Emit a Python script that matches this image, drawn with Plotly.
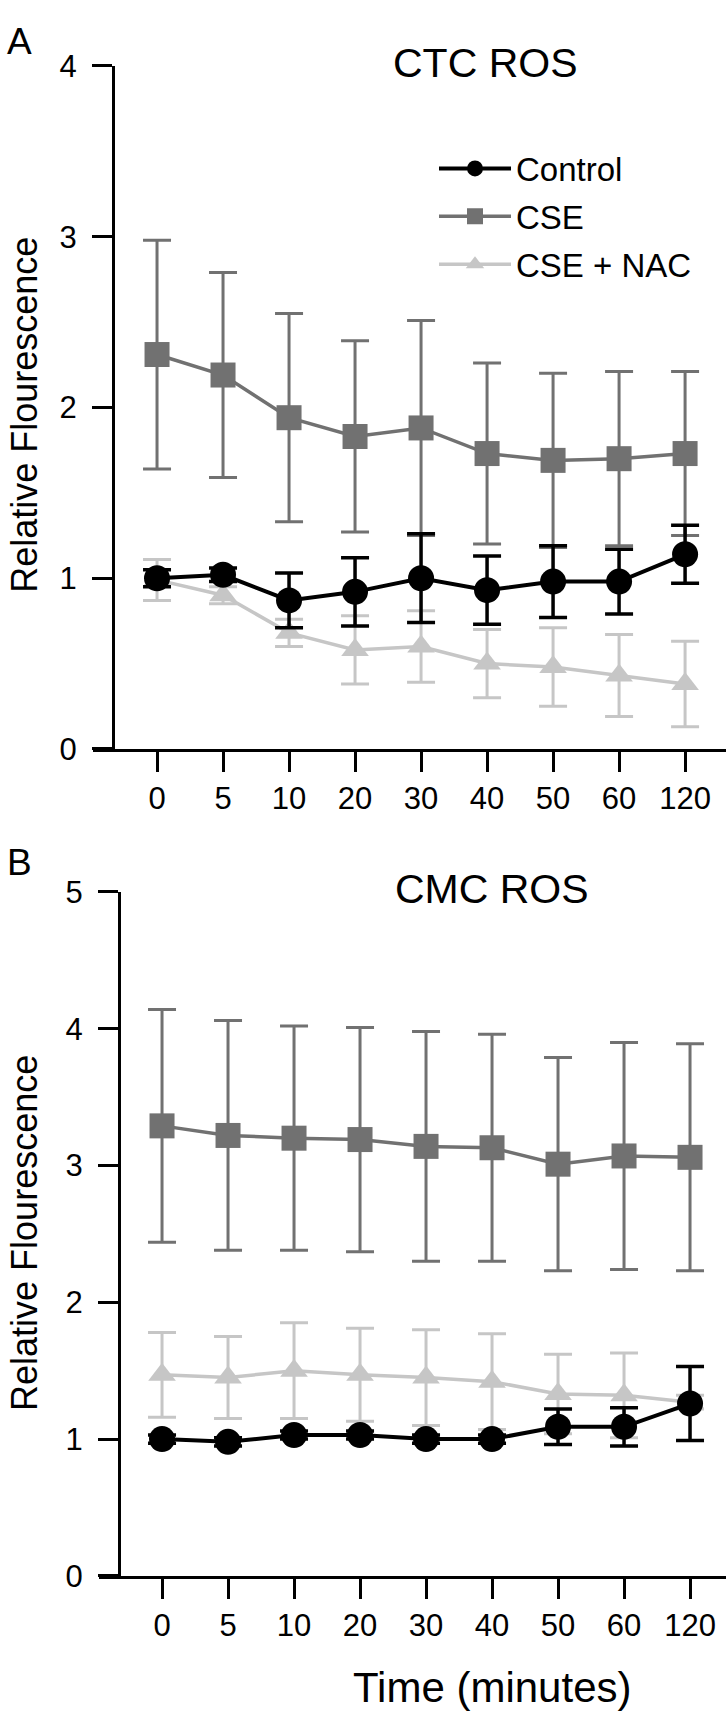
import plotly.graph_objects as go

W, H = 726, 1734

time_labels = ["0", "5", "10", "20", "30", "40", "50", "60", "120"]

# Panel A: CTC ROS
ctc_control = [1.00, 1.02, 0.87, 0.92, 1.00, 0.93, 0.98, 0.98, 1.14]
ctc_control_err = [0.05, 0.04, 0.16, 0.20, 0.26, 0.20, 0.21, 0.19, 0.17]
ctc_cse = [2.31, 2.19, 1.94, 1.83, 1.88, 1.73, 1.69, 1.70, 1.73]
ctc_cse_err = [0.67, 0.60, 0.61, 0.56, 0.63, 0.53, 0.51, 0.51, 0.48]
ctc_nac = [0.99, 0.90, 0.68, 0.58, 0.60, 0.50, 0.48, 0.43, 0.38]
ctc_nac_err = [0.12, 0.05, 0.08, 0.20, 0.21, 0.20, 0.23, 0.24, 0.25]

# Panel B: CMC ROS
cmc_control = [1.00, 0.98, 1.03, 1.03, 1.00, 1.00, 1.09, 1.09, 1.26]
cmc_control_err = [0.03, 0.03, 0.03, 0.03, 0.03, 0.03, 0.13, 0.14, 0.27]
cmc_cse = [3.29, 3.22, 3.20, 3.19, 3.14, 3.13, 3.01, 3.07, 3.06]
cmc_cse_err = [0.85, 0.84, 0.82, 0.82, 0.84, 0.83, 0.78, 0.83, 0.83]
cmc_nac = [1.47, 1.45, 1.50, 1.47, 1.45, 1.42, 1.33, 1.32, 1.27]
cmc_nac_err = [0.31, 0.30, 0.35, 0.34, 0.35, 0.35, 0.29, 0.31, 0.05]

colors = {"Control": "#000000", "CSE": "#717171", "CSE + NAC": "#c6c6c6"}
symbols = {"Control": "circle", "CSE": "square", "CSE + NAC": "triangle-up"}
msizes = {"Control": 26, "CSE": 25, "CSE + NAC": 24}
lwidths = {"Control": 4, "CSE": 3.5, "CSE + NAC": 3.5}

FONT = "Liberation Sans, Arial, sans-serif"

def fx(v):
    return v / W

def fy(v):
    return 1 - v / H

fig = go.Figure()

panels = [
    ("x", "y", {"CSE + NAC": (ctc_nac, ctc_nac_err), "CSE": (ctc_cse, ctc_cse_err),
                "Control": (ctc_control, ctc_control_err)}, True),
    ("x2", "y2", {"CSE + NAC": (cmc_nac, cmc_nac_err), "CSE": (cmc_cse, cmc_cse_err),
                  "Control": (cmc_control, cmc_control_err)}, False),
]

rank = {"Control": 1, "CSE": 2, "CSE + NAC": 3}
for xa, ya, data, show in panels:
    for name in ["CSE + NAC", "CSE", "Control"]:
        vals, errs = data[name]
        fig.add_trace(go.Scatter(
            x=time_labels, y=vals, xaxis=xa, yaxis=ya,
            mode="lines+markers", name=name,
            showlegend=show, legendrank=rank[name], legendgroup=name,
            line=dict(color=colors[name], width=lwidths[name]),
            marker=dict(symbol=symbols[name], size=msizes[name], color=colors[name]),
            error_y=dict(type="data", array=errs, symmetric=True,
                         color=colors[name], thickness=3.5 if name == "Control" else 3,
                         width=14),
        ))

axis_common = dict(showline=True, linecolor="black", linewidth=3,
                   ticks="outside", ticklen=20, tickwidth=3, tickcolor="black",
                   showgrid=False, zeroline=False,
                   tickfont=dict(family=FONT, size=31, color="black"))

fig.update_layout(
    width=W, height=H,
    margin=dict(l=0, r=0, t=0, b=0),
    paper_bgcolor="white", plot_bgcolor="white",
    showlegend=True,
    legend=dict(x=fx(434), y=fy(126), xanchor="left", yanchor="top",
                font=dict(family=FONT, size=33, color="black"),
                bgcolor="rgba(0,0,0,0)", itemwidth=72, tracegroupgap=2,
                traceorder="grouped"),
    xaxis=dict(domain=[fx(93), 1], anchor="y", type="category",
               categoryorder="array", categoryarray=time_labels,
               range=[-0.97, 8.62], **axis_common),
    yaxis=dict(domain=[fy(747), fy(50)], anchor="free",
               position=fx(113), range=[0, 4], tickvals=[0, 1, 2, 3, 4],
               ticklabelstandoff=9, **axis_common),
    xaxis2=dict(domain=[fx(99), 1], anchor="y2", type="category",
                categoryorder="array", categoryarray=time_labels,
                range=[-0.955, 8.545], **axis_common),
    yaxis2=dict(domain=[fy(1591), fy(893)], anchor="free",
                position=fx(119), range=[0, 5], tickvals=[0, 1, 2, 3, 4, 5],
                ticklabelstandoff=9, **axis_common),
)

def ann(text, x, y, size, angle=0):
    fig.add_annotation(text=text, x=fx(x), y=fy(y), xref="paper", yref="paper",
                       xanchor="center", yanchor="middle", showarrow=False,
                       textangle=angle, font=dict(family=FONT, size=size, color="black"))

ann("A", 19, 25, 37)
ann("B", 19, 863, 37)
ann("CTC ROS", 485, 47, 41)
ann("CMC ROS", 492, 890, 41)
ann("Relative Flourescence", 25, 406, 36, -90)
ann("Relative Flourescence", 25, 1241, 36, -90)
ann("Time (minutes)", 492, 1705, 42)

fig.write_html(
    "out.html",
    config={"displayModeBar": False},
    post_script="document.body.style.margin='0';document.body.style.overflow='hidden';",
)
